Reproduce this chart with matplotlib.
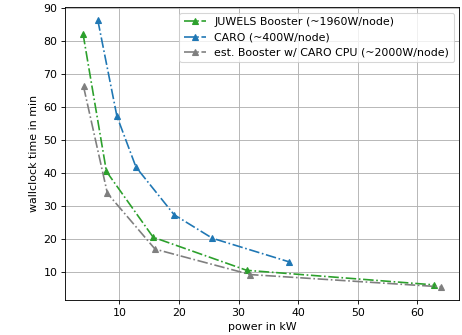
import matplotlib
matplotlib.use("Agg")
import matplotlib.pyplot as plt

juwels_x = [3.92, 7.84, 15.68, 31.36, 62.72]
juwels_y = [82.1, 40.5, 20.6, 10.6, 6.2]
caro_x = [6.4, 9.6, 12.8, 19.2, 25.6, 38.4]
caro_y = [86.2, 57.2, 41.8, 27.4, 20.3, 13.2]
est_x = [4, 8, 16, 32, 64]
est_y = [66.2, 33.9, 17.0, 9.3, 5.6]

labels = ["JUWELS Booster (~1960W/node)", "CARO (~400W/node)",
          "est. Booster w/ CARO CPU (~2000W/node)"]

fig = plt.figure(figsize=(462 / 79, 335 / 79), dpi=79)
ax = fig.add_axes([0.141, 0.104, 0.853, 0.875])
ax.plot(juwels_x, juwels_y, '-.^', color='tab:green', label=labels[0])
ax.plot(caro_x, caro_y, '-.^', color='tab:blue', label=labels[1])
ax.plot(est_x, est_y, '-.^', color='tab:gray', label=labels[2])
ax.set_xlabel("power in kW")
ax.set_ylabel("wallclock time in min")
ax.set_xticks([10, 20, 30, 40, 50, 60])
ax.set_yticks([10, 20, 30, 40, 50, 60, 70, 80, 90])
ax.grid(True)
ax.legend(loc='upper right')
fig.savefig("out.png", dpi=79)
